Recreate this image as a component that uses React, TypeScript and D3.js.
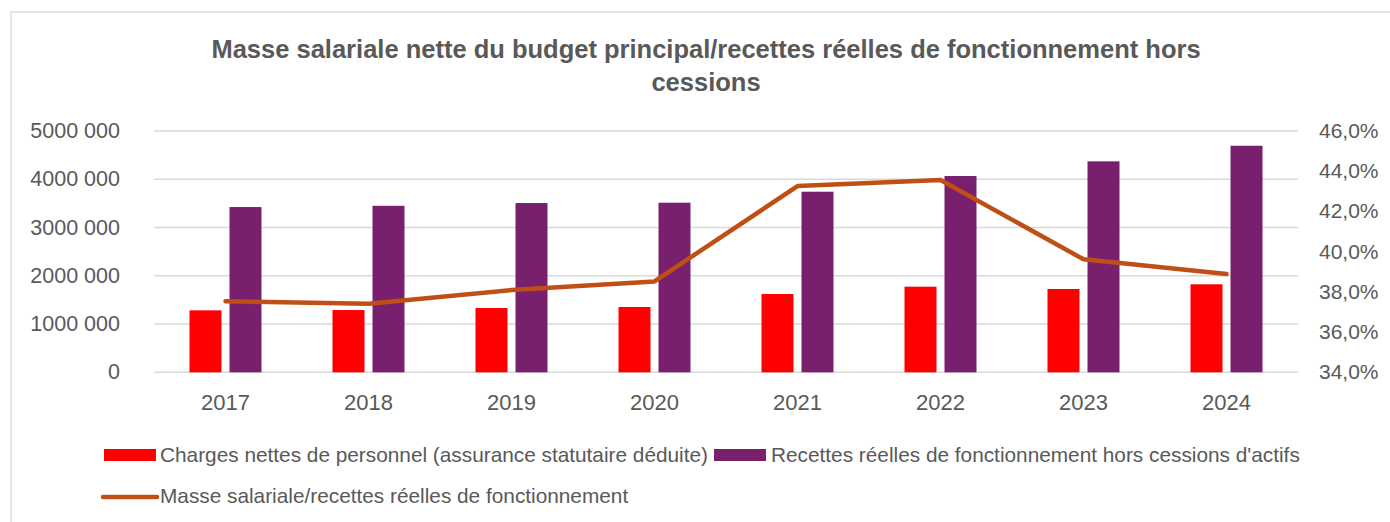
import React from "react";
import * as d3 from "d3";

const years = ["2017", "2018", "2019", "2020", "2021", "2022", "2023", "2024"];
const charges = [1284000, 1290000, 1332000, 1353000, 1622000, 1774000, 1726000, 1823000];
const recettes = [3424000, 3450000, 3507000, 3514000, 3742000, 4067000, 4371000, 4694000];
const ratio = [0.3753, 0.3741, 0.3809, 0.3852, 0.4326, 0.4356, 0.3962, 0.3889];
const leftTicks = [0, 1000000, 2000000, 3000000, 4000000, 5000000];
const leftTickLabels = ["0", "1000 000", "2000 000", "3000 000", "4000 000", "5000 000"];
const rightTicks = [0.34, 0.36, 0.38, 0.4, 0.42, 0.44, 0.46];
const titleLines = [
  "Masse salariale nette du budget principal/recettes réelles de fonctionnement hors",
  "cessions",
];
const seriesNames = [
  "Charges nettes de personnel (assurance statutaire déduite)",
  "Recettes réelles de fonctionnement hors cessions d'actifs",
  "Masse salariale/recettes réelles de fonctionnement",
];

const W = 1390;
const H = 522;
const TEXT = "#595959";
const GRID = "#D9D9D9";
const RED = "#FF0000";
const PURPLE = "#78206E";
const ORANGE = "#C04F15";
const FONT = "'Liberation Sans', Arial, sans-serif";

export default function App() {
  const plotL = 154, plotR = 1298, plotT = 131, plotB = 372.3;
  const x0 = d3.scaleBand<string>().domain(years).range([plotL, plotR]).paddingInner(0).paddingOuter(0);
  const bw = x0.bandwidth();
  const x1 = d3.scaleBand<string>().domain(["c", "r"]).range([(bw - 72) / 2, (bw + 72) / 2]).paddingInner(0.2).paddingOuter(0);
  const yL = d3.scaleLinear().domain([0, 5000000]).range([plotB, plotT]);
  const yR = d3.scaleLinear().domain([0.34, 0.46]).range([plotB, plotT]);
  const fmtPct = (v: number) => d3.format(".1f")(v * 100).replace(".", ",") + "%";

  const line = d3.line<number>()
    .x((_, i) => (x0(years[i]) as number) + bw / 2)
    .y((d) => yR(d));

  return (
    <div style={{ position: "absolute", left: 0, top: 0 }}>
      <svg width={W} height={H} style={{ display: "block", background: "#fff" }} fontFamily={FONT}>
        <rect x={11} y={12} width={1400} height={600} fill="#fff" stroke={GRID} strokeWidth={1.3} />
        {titleLines.map((t, i) => (
          <text key={i} x={706} y={58 + i * 33} textAnchor="middle" fontSize={25.5} fontWeight="bold" fill={TEXT}>
            {t}
          </text>
        ))}
        {leftTicks.map((t, i) => (
          <line key={"g" + i} x1={plotL} x2={plotR} y1={yL(t)} y2={yL(t)} stroke={GRID} strokeWidth={1.5} />
        ))}
        {leftTicks.map((t, i) => (
          <text key={"l" + i} x={120} y={yL(t) + 7} textAnchor="end" fontSize={21.5} fill={TEXT}>
            {leftTickLabels[i]}
          </text>
        ))}
        {rightTicks.map((t, i) => (
          <text key={"r" + i} x={1319} y={yR(t) + 7} textAnchor="start" fontSize={21} fill={TEXT}>
            {fmtPct(t)}
          </text>
        ))}
        {years.map((yr) => (
          <text key={"x" + yr} x={(x0(yr) as number) + bw / 2} y={410} textAnchor="middle" fontSize={22} fill={TEXT}>
            {yr}
          </text>
        ))}
        {years.map((yr, i) => (
          <g key={"b" + yr} transform={`translate(${x0(yr)},0)`}>
            <rect x={x1("c")} y={yL(charges[i])} width={x1.bandwidth()} height={plotB - yL(charges[i])} fill={RED} />
            <rect x={x1("r")} y={yL(recettes[i])} width={x1.bandwidth()} height={plotB - yL(recettes[i])} fill={PURPLE} />
          </g>
        ))}
        <path d={line(ratio) || ""} fill="none" stroke={ORANGE} strokeWidth={4.5} strokeLinecap="round" strokeLinejoin="round" />
        {/* legend */}
        <rect x={104} y={449} width={52} height={12} fill={RED} />
        <text x={160} y={462} fontSize={20.8} fill={TEXT}>{seriesNames[0]}</text>
        <rect x={714} y={449} width={52} height={12} fill={PURPLE} />
        <text x={771} y={462} fontSize={20.8} fill={TEXT}>{seriesNames[1]}</text>
        <line x1={103} x2={157} y1={497} y2={497} stroke={ORANGE} strokeWidth={4.5} strokeLinecap="round" />
        <text x={160} y={503} fontSize={20.8} fill={TEXT}>{seriesNames[2]}</text>
      </svg>
    </div>
  );
}
